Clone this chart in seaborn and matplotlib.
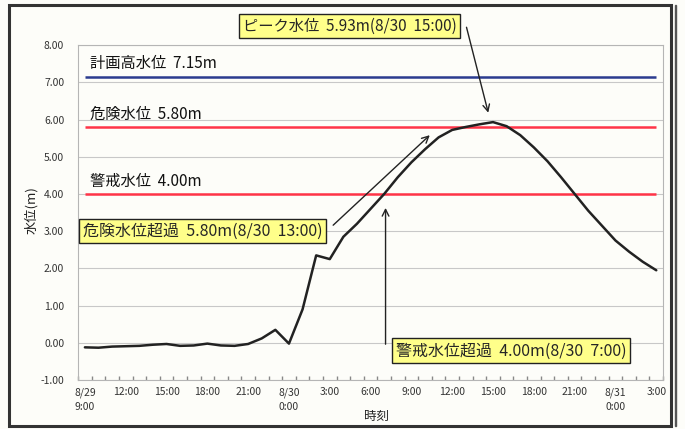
import numpy as np
import pandas as pd
import matplotlib
matplotlib.use("Agg")
import matplotlib.pyplot as plt
from matplotlib.patches import Rectangle
import seaborn as sns

# -------------------------- データ --------------------------
# 8/29 9:00 から 8/31 3:00 まで 1 時間ごとの水位 (m)
water_level = [
    -0.12, -0.13, -0.10, -0.09, -0.08, -0.05, -0.03, -0.08, -0.07, -0.02,
    -0.07, -0.08, -0.03, 0.12, 0.35, -0.02, 0.90, 2.35, 2.25, 2.85,
    3.20, 3.60, 4.00, 4.45, 4.85, 5.20, 5.52, 5.72, 5.80, 5.87,
    5.93, 5.82, 5.58, 5.25, 4.88, 4.45, 4.00, 3.55, 3.15, 2.75,
    2.45, 2.18, 1.95,
]
hour_index = list(range(len(water_level)))

# 3 時間ごとの目盛ラベル
tick_labels = ["8/29\n9:00", "12:00", "15:00", "18:00", "21:00", "8/30\n0:00",
               "3:00", "6:00", "9:00", "12:00", "15:00", "18:00", "21:00",
               "8/31\n0:00", "3:00"]

# 基準水位
ref_names = ["計画高水位", "危険水位", "警戒水位"]
ref_values = [7.15, 5.80, 4.00]
ref_colors = ["#2b3b8f", "#ff3347", "#ff3347"]

# 注記
peak_text = "ピーク水位  5.93m(8/30  15:00)"
danger_text = "危険水位超過  5.80m(8/30  13:00)"
warn_text = "警戒水位超過  4.00m(8/30  7:00)"

df = pd.DataFrame({"hour": hour_index, "level": water_level})

# -------------------------- 描画設定 --------------------------
sns.set_theme(style="white")
plt.rcParams['font.family'] = ['Noto Sans CJK JP', 'DejaVu Sans']
plt.rcParams['axes.unicode_minus'] = False

fig = plt.figure(figsize=(6.85, 4.29), dpi=100)
fig.patch.set_facecolor("#fdfdf9")
ax = fig.add_axes([0.114, 0.114, 0.854, 0.781])
ax.set_facecolor("#fdfdf9")

# 外枠
fig.patches.append(Rectangle((9 / 685, 3 / 429), 662 / 685, 421 / 429,
                             transform=fig.transFigure, fill=False,
                             edgecolor="#333333", linewidth=2.2))
fig.patches.append(Rectangle((675 / 685, 3 / 429), 0.001, 421 / 429,
                             transform=fig.transFigure, fill=False,
                             edgecolor="#555555", linewidth=1.0))

# 基準水位線
for name, val, col in zip(ref_names, ref_values, ref_colors):
    ax.hlines(val, hour_index[0], hour_index[-1], color=col, linewidth=1.8, zorder=2)
    ax.text(hour_index[0] + 0.4, val + 0.12, f"{name}  {val:.2f}m",
            fontsize=11, color="#111111", va="bottom", ha="left")

# 水位の折れ線
sns.lineplot(data=df, x="hour", y="level", ax=ax, color="#222222",
             linewidth=1.8, zorder=3)

# 軸
ax.set_xlim(-0.5, len(water_level) - 0.5)
ax.set_ylim(-1, 8)
ax.set_yticks(np.arange(-1, 9, 1))
ax.set_yticklabels([f"{v:.2f}" for v in np.arange(-1, 9, 1)], fontsize=7.5,
                   color="#333333")
ax.set_xticks(hour_index[::3])
ax.set_xticklabels(tick_labels, fontsize=7.5, color="#333333", linespacing=1.6)
ax.set_xticks(np.arange(-0.5, len(water_level), 1), minor=True)
ax.tick_params(axis="x", which="major", length=0, pad=5)
ax.tick_params(axis="x", which="minor", direction="in", length=3,
               color="#888888", bottom=True)
ax.tick_params(axis="y", length=0, pad=10)
ax.grid(axis="y", color="#c8c8c8", linewidth=0.8)
for sp in ax.spines.values():
    sp.set_color("#b5b5b5")
    sp.set_linewidth(0.8)

ax.set_xlabel("時刻", fontsize=9, color="#222222")
ax.xaxis.set_label_coords(0.51, -0.09)
ax.set_ylabel("水位(m)", fontsize=9.5, color="#222222")
ax.yaxis.set_label_coords(-0.068, 0.507)

# 注記ボックス
box = dict(boxstyle="square,pad=0.25", facecolor="#ffff8a",
           edgecolor="#222222", linewidth=1.0)
ax.text(0.464, 1.057, peak_text, transform=ax.transAxes, fontsize=11,
        ha="center", va="center", bbox=box, zorder=5)
ax.text(0.008, 0.445, danger_text, transform=ax.transAxes, fontsize=11.5,
        ha="left", va="center", bbox=box, zorder=5)
ax.text(0.543, 0.087, warn_text, transform=ax.transAxes, fontsize=11.5,
        ha="left", va="center", bbox=box, zorder=5)

# 矢印
peak_i = int(np.argmax(water_level))
arrow = dict(arrowstyle="->", color="#222222", linewidth=1.0)
ax.annotate("", xy=(peak_i - 0.3, water_level[peak_i] + 0.18),
            xytext=(28.0, 8.55), arrowprops=arrow, annotation_clip=False)
ax.annotate("", xy=(25.5, 5.63), xytext=(18.1, 3.11), arrowprops=arrow,
            annotation_clip=False)
ax.annotate("", xy=(22.1, 3.70), xytext=(22.1, -0.11), arrowprops=arrow,
            annotation_clip=False)

plt.savefig("out.png", dpi=100, facecolor=fig.get_facecolor())
